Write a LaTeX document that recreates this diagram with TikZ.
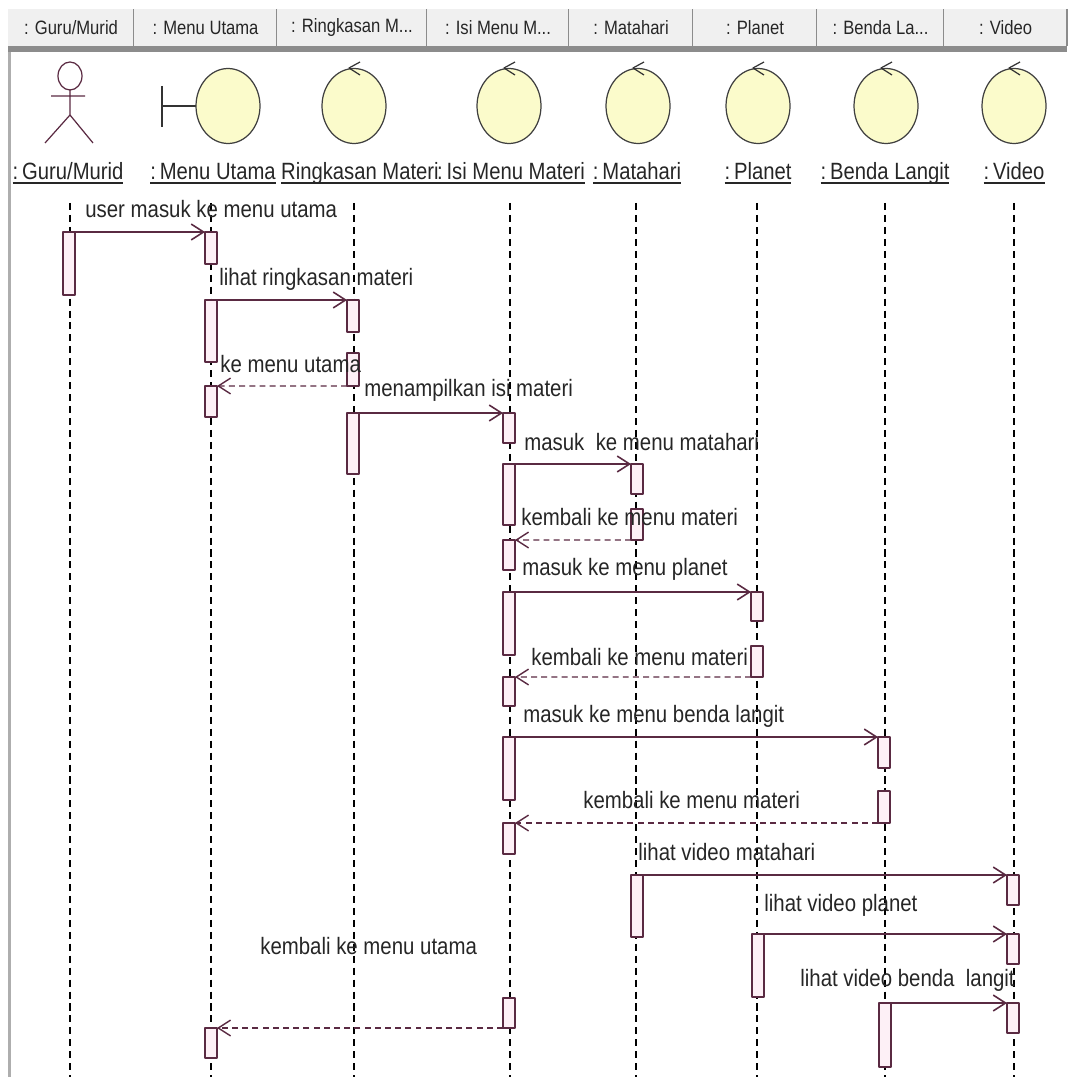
\documentclass[tikz,border=0pt]{standalone}
\usepackage{fontspec}
\setmainfont[FakeStretch=0.86]{Liberation Sans}
\usetikzlibrary{arrows.meta,shapes.geometric}
\definecolor{barline}{HTML}{5A2A42}
\definecolor{barfill}{HTML}{FDF0F6}
\definecolor{robust}{HTML}{FBFBCB}
\definecolor{tabfill}{HTML}{F0F0F0}
\definecolor{tabline}{HTML}{8C8C8C}
\definecolor{inktext}{HTML}{262626}
\tikzset{
  tabcell/.style={fill=tabfill,inner sep=0pt,outer sep=0pt,text=inktext,font=\fontsize{11}{11}\selectfont},
  objlabel/.style={inner sep=0pt,outer sep=0pt,text=inktext,text height=10.5pt,text depth=1.8pt,font=\fontsize{13.4}{14}\selectfont},
  msglabel/.style={inner sep=0pt,anchor=west,text=inktext,font=\fontsize{13.5}{14}\selectfont},
  actbar/.style={draw=barline,fill=barfill,line width=0.85pt,inner sep=0pt,outer sep=0pt,minimum width=0.24cm},
  robustball/.style={ellipse,draw=black!75,fill=robust,line width=0.7pt,inner sep=0pt,outer sep=0pt,minimum width=1.28cm,minimum height=1.5cm},
  call/.style={draw=barline,line width=0.9pt,-{Straight Barb[length=7pt,width=9pt]}},
  return/.style={draw=barline,line width=0.8pt,dash pattern=on 3.4pt off 2.4pt,-{Straight Barb[length=7pt,width=9pt]}},
  life/.style={black,line width=0.8pt,dash pattern=on 4pt off 2.8pt}
}
\begin{document}
\begin{tikzpicture}[line cap=butt,line join=round,x=0.02cm,y=-0.02cm]
    \useasboundingbox (0,0) rectangle (1067,1077);
    % Header tabs
    \foreach \name/\left/\wide/\tabtext in {tabA/8/126/{: Guru/Murid},tabB/134/143/{: Menu Utama},tabC/277/150/{: Ringkasan M...},tabD/427/142/{: Isi Menu M...},tabE/569/124/{: Matahari},tabF/693/124/{: Planet},tabG/817/127/{: Benda La...},tabH/944/123/{: Video}} {
        \node[tabcell,anchor=north west,minimum width=\wide*0.02cm,minimum height=0.74cm] (\name) at (\left,9) {\tabtext};
        \draw[tabline,line width=0.8pt] (\name.north east) -- (\name.south east);
    }
    \fill[tabline] (8,46) rectangle (1067,52);
    \fill[tabline!70] (8,52) rectangle (11,1077);

    % Lifelines
    \foreach \lx in {70,211,354,510,636,757,885,1014} {
        \draw[life] (\lx,203) -- (\lx,1077);
    }

    % Actor
    \draw[barline,line width=0.7pt] (70,76) ellipse (12 and 14);
    \draw[barline,line width=0.7pt] (70,90) -- (70,115) -- (45,143) (70,115) -- (93,143) (51,96) -- (85,96);

    % Objects
    \draw[black!80,line width=0.9pt] (162,86) -- (162,127) (162,106) -- (196,106);
    \node[robustball] (ballB) at (228,106) {};
    \foreach \name/\bx in {ballC/354,ballD/509,ballE/638,ballF/758,ballG/886,ballH/1014} {
        \node[robustball] (\name) at (\bx,106) {};
        \draw[black!80,line width=0.7pt] (\bx+6,62) -- (\bx-5,68) -- (\bx+6,75);
    }

    % Object names
    \foreach \name/\cx/\objtext in {objA/68/{:\,Guru/Murid},objB/213/{:\,Menu Utama},objC/360/{Ringkasan Materi},objD/511/{:\,Isi Menu Materi},objE/637/{:\,Matahari},objF/758/{:\,Planet},objG/885/{:\,Benda Langit},objH/1014/{:\,Video}} {
        \node[objlabel] (\name) at (\cx,172) {\objtext};
        \draw[inktext,line width=0.9pt] (\name.south west) -- (\name.south east);
    }

    % Activation bars
    \foreach \name/\bx/\top/\bot in {guruA/69/232/295,menuA/211/232/264,menuB/211/300/362,ringA/353/300/332,ringB/353/353/386,menuC/211/386/417,ringC/353/413/474,isiA/509/413/443,isiB/509/464/525,mataA/637/464/494,mataB/637/509/540,isiC/509/540/570,isiD/509/592/655,planA/757/592/621,planB/757/646/677,isiE/509/677/706,isiF/509/737/800,bendA/884/737/768,bendB/884/791/823,isiG/509/823/854,mataC/637/875/937,vidA/1013/875/905,planC/758/934/997,vidB/1013/934/964,bendC/885/1003/1067,vidC/1013/1003/1033,isiH/509/998/1028,menuD/211/1028/1058} {
        \node[actbar,anchor=north,minimum height=(\bot-\top)*0.02cm] (\name) at (\bx,\top) {};
    }

    % Messages
    \foreach \source/\target in {guruA/menuA,menuB/ringA,ringC/isiA,isiB/mataA,isiD/planA,isiF/bendA,mataC/vidA,planC/vidB,bendC/vidC} {
        \draw[call] (\source.north east) -- (\target.north west);
    }
    \foreach \source/\target in {ringB/menuC,mataB/isiC,planB/isiE,bendB/isiG,isiH/menuD} {
        \draw[return] (\source.south west) -- (\target.north east);
    }

    % Message labels
    \foreach \name/\lx/\ly/\msgtext in {msgA/85/209/{user masuk ke menu utama},msgB/219/279/{lihat ringkasan materi},msgC/220/364/{ke menu utama},msgD/364/390/{menampilkan isi materi},msgE/524/442/{masuk\ \ ke menu matahari},msgF/521/517/{kembali ke menu materi},msgG/522/569/{masuk ke menu planet},msgH/531/657/{kembali ke menu materi},msgI/523/716/{masuk ke menu benda langit},msgJ/583/800/{kembali ke menu materi},msgK/638/852/{lihat video matahari},msgL/764/905/{lihat video planet},msgM/260/946/{kembali ke menu utama},msgN/800/980/{lihat video benda\ \ langit}} {
        \node[msglabel] (\name) at (\lx,\ly) {\msgtext};
    }
\end{tikzpicture}
\end{document}
